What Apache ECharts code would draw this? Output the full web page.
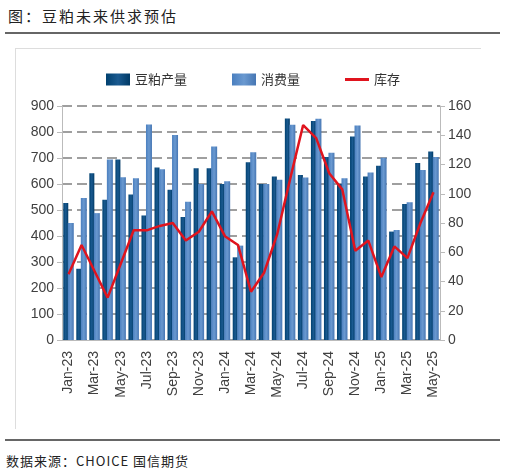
<!DOCTYPE html>
<html><head><meta charset="utf-8">
<script src="https://cdn.jsdelivr.net/npm/echarts@6/dist/echarts.min.js"></script>
<style>
html,body{margin:0;padding:0;background:#fff;}
#wrap{position:relative;width:506px;height:473px;overflow:hidden;}
#title{position:absolute;left:8px;top:5px;font-family:"Noto Sans CJK SC";font-size:15px;color:#222;letter-spacing:2px;}
#hr1{position:absolute;left:5px;top:32px;width:495px;height:2px;background:#666;}
#box{position:absolute;left:15px;top:48px;width:465px;height:380px;border-left:1px solid #ddd;border-top:1px solid #ddd;}
#hr2{position:absolute;left:5px;top:439px;width:495px;height:2px;background:#666;}
#foot{position:absolute;left:6px;top:451px;font-family:"Noto Sans CJK SC";font-size:13px;color:#222;letter-spacing:1px;}
#chart{position:absolute;left:0;top:0;width:506px;height:473px;}
</style></head>
<body><div id="wrap">
<div id="title">图：豆粕未来供求预估</div>
<div id="hr1"></div>
<div id="box"></div>
<div id="hr2"></div>
<div id="foot">数据来源：CHOICE 国信期货</div>
<div id="chart"></div>
</div>
<script>
const categories = ["Jan-23","Feb-23","Mar-23","Apr-23","May-23","Jun-23","Jul-23","Aug-23","Sep-23","Oct-23","Nov-23","Dec-23",
"Jan-24","Feb-24","Mar-24","Apr-24","May-24","Jun-24","Jul-24","Aug-24","Sep-24","Oct-24","Nov-24","Dec-24",
"Jan-25","Feb-25","Mar-25","Apr-25","May-25"];
const production = [527,274,641,539,694,560,479,663,578,473,661,661,600,318,684,600,629,852,635,842,704,600,783,629,670,417,523,681,725];
const consumption = [450,546,488,694,626,622,829,657,788,532,600,744,611,363,722,600,616,828,625,851,720,622,825,644,701,423,530,654,704];
const stock = [45,65,47,29,52,75,75,78,80,68,74,88,71,65,33,46,72,110,147,138,114,103,61,68,43,64,56,80,101];

const chart = echarts.init(document.getElementById('chart'), null, {renderer:'canvas'});
const axisFont = {fontFamily:'"Liberation Sans", Arial', fontSize:14, color:'#404040'};
chart.setOption({
  animation:false,
  backgroundColor:'transparent',
  legend:{
    top:68, left:'center', itemGap:45, itemWidth:24, itemHeight:12,
    textStyle:{fontFamily:'"Noto Sans CJK SC"', fontSize:13, color:'#333'},
    data:[{name:'豆粕产量',icon:'rect'},{name:'消费量',icon:'rect'},{name:'库存',icon:'path://M0,5h24v3h-24z'}]
  },
  grid:{left:62, right:66, top:106, bottom:133},
  xAxis:{
    type:'category', data:categories,
    axisLine:{lineStyle:{color:'#bbb'}},
    axisTick:{interval:1, lineStyle:{color:'#bbb'}},
    axisLabel:Object.assign({interval:1, rotate:90, margin:11}, axisFont)
  },
  yAxis:[
    {type:'value', min:0, max:900, interval:100,
     axisLine:{show:true, lineStyle:{color:'#bbb'}}, axisTick:{show:true, lineStyle:{color:'#bbb'}},
     axisLabel:Object.assign({margin:8}, axisFont),
     splitLine:{lineStyle:{color:'#808080', type:[10,5], width:1.5}}},
    {type:'value', min:0, max:160, interval:20,
     axisLine:{show:true, lineStyle:{color:'#bbb'}}, axisTick:{show:true, lineStyle:{color:'#bbb'}},
     axisLabel:Object.assign({margin:8}, axisFont),
     splitLine:{show:false}}
  ],
  series:[
    {name:'豆粕产量', type:'bar', data:production, barWidth:5, barGap:'-10%',
     itemStyle:{color:new echarts.graphic.LinearGradient(0,0,1,0,[{offset:0,color:'#00406f'},{offset:0.5,color:'#1a5a90'},{offset:1,color:'#003a66'}])}},
    {name:'消费量', type:'bar', data:consumption, barWidth:6,
     itemStyle:{color:new echarts.graphic.LinearGradient(0,0,1,0,[{offset:0,color:'#4a7fbf'},{offset:0.5,color:'#6a99d0'},{offset:1,color:'#4676b3'}])}},
    {name:'库存', type:'line', yAxisIndex:1, data:stock, symbol:'none',
     lineStyle:{color:'#e0141e', width:2.5}, itemStyle:{color:'#e0141e'}}
  ]
});
</script>
</body></html>
